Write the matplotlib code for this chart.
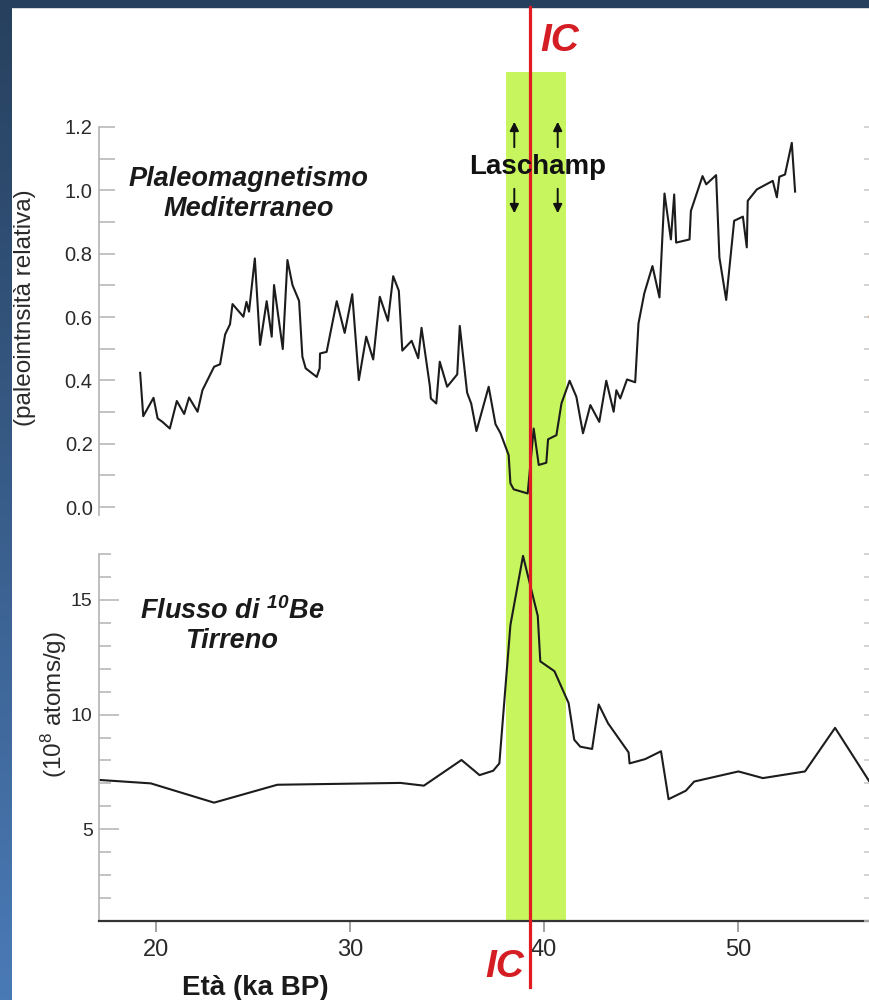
import numpy as np
import matplotlib
matplotlib.use("Agg")
import matplotlib.pyplot as plt
from matplotlib.patches import Rectangle, FancyArrowPatch
from matplotlib.lines import Line2D
from matplotlib.colors import LinearSegmentedColormap
from matplotlib.transforms import blended_transform_factory
from matplotlib.ticker import MultipleLocator

plt.rcParams['font.family'] = ['Liberation Sans', 'DejaVu Sans']
plt.rcParams['mathtext.default'] = 'regular'

# paleointensita' relativa (Mediterraneo)
eta_pal = [19.19, 19.35, 19.88, 20.09, 20.34, 20.72, 21.08, 21.46, 21.71, 22.15,
           22.40, 23.00, 23.31, 23.57, 23.82, 23.95, 24.51, 24.67, 24.80, 25.10,
           25.37, 25.71, 25.97, 26.09, 26.54, 26.78, 27.04, 27.38, 27.55, 27.72,
           28.29, 28.44, 28.46, 28.80, 29.32, 29.73, 30.12, 30.46, 30.84, 31.20,
           31.54, 31.96, 32.23, 32.52, 32.70, 33.18, 33.52, 33.69, 34.12, 34.17,
           34.45, 34.63, 35.01, 35.53, 35.66, 36.04, 36.25, 36.52, 37.15, 37.50,
           37.76, 38.18, 38.27, 38.44, 39.16, 39.47, 39.73, 40.12, 40.21, 40.64,
           40.90, 41.32, 41.67, 42.01, 42.39, 42.85, 43.21, 43.59, 43.73, 43.93,
           44.28, 44.70, 44.87, 45.17, 45.59, 45.95, 46.21, 46.54, 46.71, 46.81,
           47.50, 47.57, 48.17, 48.36, 48.87, 49.04, 49.39, 49.80, 50.25, 50.45,
           50.50, 50.97, 51.79, 52.00, 52.13, 52.42, 52.77, 52.94]
pal_int = [0.424, 0.287, 0.345, 0.280, 0.269, 0.248, 0.335, 0.294, 0.346, 0.301,
           0.369, 0.443, 0.451, 0.545, 0.577, 0.641, 0.601, 0.648, 0.617, 0.785,
           0.512, 0.650, 0.538, 0.701, 0.499, 0.780, 0.701, 0.651, 0.475, 0.438,
           0.411, 0.438, 0.485, 0.490, 0.650, 0.550, 0.672, 0.401, 0.538, 0.466,
           0.664, 0.588, 0.729, 0.683, 0.494, 0.525, 0.470, 0.566, 0.382, 0.343,
           0.327, 0.459, 0.380, 0.419, 0.572, 0.361, 0.327, 0.240, 0.380, 0.262,
           0.233, 0.164, 0.075, 0.056, 0.043, 0.248, 0.133, 0.140, 0.214, 0.227,
           0.327, 0.399, 0.348, 0.233, 0.322, 0.269, 0.399, 0.301, 0.369, 0.343,
           0.403, 0.394, 0.580, 0.675, 0.761, 0.662, 0.990, 0.845, 0.987, 0.835,
           0.845, 0.935, 1.045, 1.019, 1.048, 0.788, 0.654, 0.904, 0.917, 0.820,
           0.967, 1.003, 1.030, 0.978, 1.043, 1.050, 1.150, 0.996]

# flusso di 10Be (Tirreno)
eta_be = [17.08, 19.74, 23.00, 26.26, 32.61, 33.81, 35.75, 36.68, 37.38, 37.70,
          38.27, 38.92, 39.68, 39.81, 40.54, 41.27, 41.56, 41.87, 42.48, 42.82,
          43.30, 44.36, 44.41, 45.22, 46.03, 46.42, 47.31, 47.74, 50.02, 51.28,
          53.45, 55.00, 56.80]
be_flux = [7.15, 7.00, 6.16, 6.94, 7.02, 6.90, 8.02, 7.36, 7.55, 7.87,
           13.90, 16.92, 14.30, 12.32, 11.89, 10.50, 8.90, 8.60, 8.50, 10.44,
           9.62, 8.35, 7.87, 8.06, 8.40, 6.31, 6.68, 7.08, 7.52, 7.23,
           7.52, 9.42, 7.04]

laschamp = (38.05, 41.14)
ic_age = 39.3
eta_ticks = [20, 30, 40, 50]
pal_ticks = [0.0, 0.2, 0.4, 0.6, 0.8, 1.0, 1.2]
be_ticks = [5, 10, 15]

W, H = 870, 1000
fig = plt.figure(figsize=(8.7, 10), dpi=100)
fig.patch.set_facecolor('white')

# slide background
bg = fig.add_axes([0, 0, 1, 1], zorder=-10)
bg.set_xlim(0, W)
bg.set_ylim(H, 0)
bg.axis('off')
side = LinearSegmentedColormap.from_list('side', ['#27405e', '#4a7ab6'])
bg.imshow(np.linspace(0, 1, 256).reshape(-1, 1), extent=(0, 12, H, 0),
          cmap=side, aspect='auto')
bg.add_patch(Rectangle((0, 0), W, 7, color='#27405e'))

xlim = (17.07, 56.8)
gray = '#b3b3b3'
txt = '#2a2a2a'
ax1 = fig.add_axes([99 / W, 1 - 515 / H, 1 - 99 / W, 388 / H])
ax2 = fig.add_axes([99 / W, 1 - 921 / H, 1 - 99 / W, 367 / H])

for ax in (ax1, ax2):
    ax.set_facecolor('none')
    ax.set_xlim(xlim)
    for s in ('top', 'right'):
        ax.spines[s].set_visible(False)
    ax.spines['left'].set_color(gray)
    ax.spines['left'].set_linewidth(1.2)

# top panel
ax1.spines['bottom'].set_visible(False)
ax1.set_ylim(-0.025, 1.2)
ax1.set_yticks(pal_ticks)
ax1.set_yticklabels(['%.1f' % v for v in pal_ticks])
ax1.yaxis.set_minor_locator(MultipleLocator(0.1))
ax1.tick_params(axis='y', which='both', direction='in', length=11.5, width=1.1,
                color=gray, labelsize=14.5, labelcolor=txt, pad=4.5)
ax1.tick_params(axis='x', bottom=False, labelbottom=False)
ax1.plot(eta_pal, pal_int, color='#1c1c1c', lw=1.5)
ax1.plot(57.0, 0.62, marker='^', color='#f08a24', ms=9, clip_on=False)

# bottom panel
ax2.set_ylim(1, 17)
ax2.set_yticks(be_ticks)
ax2.yaxis.set_minor_locator(MultipleLocator(1))
ax2.tick_params(axis='y', which='major', direction='in', length=14.4, width=1.1,
                color=gray, labelsize=14, labelcolor=txt, pad=4.5)
ax2.tick_params(axis='y', which='minor', direction='in', length=8.6, width=1.1,
                color=gray)
ax2.spines['bottom'].set_color('#333333')
ax2.spines['bottom'].set_linewidth(1.6)
ax2.set_xticks(eta_ticks)
ax2.tick_params(axis='x', direction='out', length=8, width=1.1, color='#888888',
                labelsize=17, labelcolor=txt, pad=5)
ax2.plot(eta_be, be_flux, color='#1c1c1c', lw=1.5)

# right-hand ticks (cut at the edge)
for ax, ticks, minor in ((ax1, pal_ticks, 0.1), (ax2, be_ticks, 1)):
    tw = ax.twinx()
    tw.set_ylim(ax.get_ylim())
    tw.set_yticks(ticks)
    tw.yaxis.set_minor_locator(MultipleLocator(minor))
    tw.tick_params(axis='y', which='both', direction='in', length=4, width=1.1,
                   color='#c8c8c8', labelright=False)
    for s in tw.spines.values():
        s.set_visible(False)
    tw.set_facecolor('none')

# Laschamp band and IC line
tr = blended_transform_factory(ax2.transData, fig.transFigure)
fig.add_artist(Rectangle((laschamp[0], 1 - 921 / H), laschamp[1] - laschamp[0],
                         (921 - 72) / H, transform=tr, color='#c6f55e',
                         lw=0, zorder=-5))
fig.add_artist(Line2D([ic_age, ic_age], [1 - 7 / H, 1 - 987 / H], transform=tr,
                      color='#e01b22', lw=2.3, zorder=5))

red = '#d41e24'
fig.text(560 / W, 1 - 41 / H, 'IC', color=red, fontsize=28, fontweight='bold',
         style='italic', ha='center', va='center')
fig.text(505 / W, 1 - 967 / H, 'IC', color=red, fontsize=28, fontweight='bold',
         style='italic', ha='center', va='center')

fig.text(538 / W, 1 - 167 / H, 'Laschamp', fontsize=20, fontweight='bold',
         color='#111111', ha='center', va='center', zorder=6)
for xa in (514.3, 557.7):
    fig.add_artist(FancyArrowPatch((xa / W, 1 - 150 / H), (xa / W, 1 - 119 / H),
                                   transform=fig.transFigure, arrowstyle='-|>',
                                   mutation_scale=13, color='#111111', lw=1.4,
                                   zorder=6))
    fig.add_artist(FancyArrowPatch((xa / W, 1 - 186 / H), (xa / W, 1 - 216 / H),
                                   transform=fig.transFigure, arrowstyle='-|>',
                                   mutation_scale=13, color='#111111', lw=1.4,
                                   zorder=6))

fig.text(249 / W, 1 - 194 / H, 'Plaleomagnetismo\nMediterraneo', fontsize=19.5,
         fontweight='bold', style='italic', color='#1a1a1a', ha='center',
         va='center', multialignment='center', linespacing=1.15)
fig.text(232 / W, 1 - 626 / H, 'Flusso di $^{10}$Be\nTirreno', fontsize=19.5,
         fontweight='bold', style='italic', color='#1a1a1a', ha='center',
         va='center', multialignment='center', linespacing=1.15)

fig.text(25 / W, 1 - 308 / H, '(paleointnsità relativa)', fontsize=17.5,
         rotation=90, color=txt, ha='center', va='center')
fig.text(54 / W, 1 - 705 / H, '(10$^{8}$ atoms/g)', fontsize=17.5,
         rotation=90, color=txt, ha='center', va='center')
fig.text(182 / W, 1 - 988 / H, 'Età (ka BP)', fontsize=20, fontweight='bold',
         color='#1a1a1a', ha='left', va='center')

fig.savefig('out.png', dpi=100)
